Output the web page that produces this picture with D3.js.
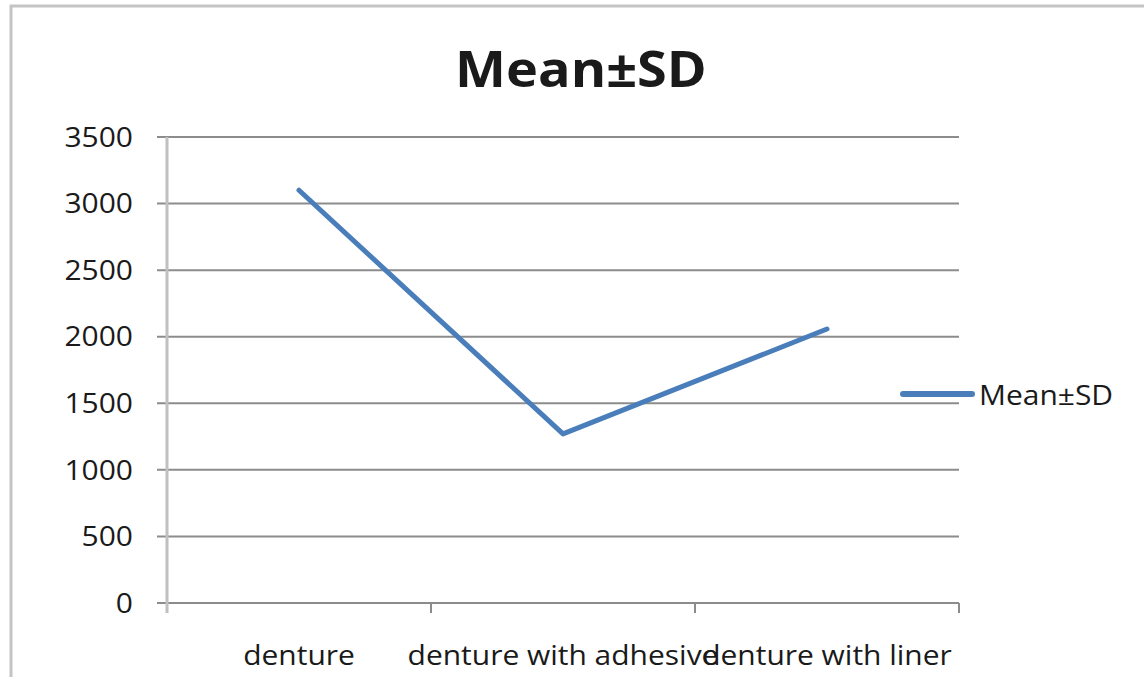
<!DOCTYPE html>
<html>
<head>
<meta charset="utf-8">
<script src="https://cdn.jsdelivr.net/npm/d3@7"></script>
<style>
  html, body { margin: 0; padding: 0; background: #fff; }
  svg { display: block; }
  text { font-family: "Open Sans", "Noto Sans", sans-serif; fill: #1a1a1a; }
</style>
</head>
<body>
<script>
// Mean±SD per denture condition
const categories = ["denture", "denture with adhesive", "denture with liner"];
const meanValues = [3100, 1270, 2058];
const yTicks = [0, 500, 1000, 1500, 2000, 2500, 3000, 3500];
const seriesName = "Mean±SD";
const chartTitle = "Mean±SD";

const W = 1144, H = 677;
const plot = { left: 167, right: 959, top: 137, bottom: 603 };
const labelSize = 27;
const stretch = 1.11; // slightly wide label lettering

const svg = d3.select("body").append("svg").attr("width", W).attr("height", H);

// places a horizontally stretched text anchored at (x, y)
function wideText(parent, x, y, str, opts = {}) {
  return parent.append("text")
    .attr("transform", `translate(${x},${y}) scale(${opts.sx || stretch},1)`)
    .attr("text-anchor", opts.anchor || "start")
    .attr("dy", opts.dy || null)
    .attr("font-size", opts.size || labelSize)
    .attr("font-weight", opts.weight || null)
    .text(str);
}

// chart frame
svg.append("rect")
  .attr("x", 11).attr("y", 6)
  .attr("width", W + 20).attr("height", H + 20)
  .attr("fill", "none").attr("stroke", "#c4c4c4").attr("stroke-width", 3);

const x = d3.scaleBand().domain(categories).range([plot.left, plot.right]).padding(0);
const y = d3.scaleLinear().domain([0, 3500]).range([plot.bottom, plot.top]);

// horizontal gridlines with tick stubs
svg.append("g").selectAll("line").data(yTicks).join("line")
  .attr("x1", plot.left - 10).attr("x2", plot.right)
  .attr("y1", d => y(d)).attr("y2", d => y(d))
  .attr("stroke", "#8c8c8c").attr("stroke-width", 2);

// y tick labels
const yLab = svg.append("g");
yTicks.forEach(t => wideText(yLab, 133, y(t), String(t), { anchor: "end", dy: "0.36em" }));

// vertical axis
svg.append("line")
  .attr("x1", plot.left).attr("x2", plot.left)
  .attr("y1", plot.top).attr("y2", plot.bottom + 10)
  .attr("stroke", "#c0c0c0").attr("stroke-width", 3);

// x tick marks at band boundaries
const bounds = categories.map(c => x(c)).concat([x(categories[categories.length - 1]) + x.bandwidth()]);
svg.append("g").selectAll("line").data(bounds.slice(1)).join("line")
  .attr("x1", d => d).attr("x2", d => d)
  .attr("y1", plot.bottom).attr("y2", plot.bottom + 10)
  .attr("stroke", "#8c8c8c").attr("stroke-width", 2);

// category labels
const xLab = svg.append("g");
categories.forEach(c => wideText(xLab, x(c) + x.bandwidth() / 2, 665, c, { anchor: "middle" }));

// data line
const line = d3.line()
  .x((d, i) => x(categories[i]) + x.bandwidth() / 2)
  .y(d => y(d));
svg.append("path")
  .datum(meanValues)
  .attr("d", line)
  .attr("fill", "none")
  .attr("stroke", "#4a7ebb")
  .attr("stroke-width", 5)
  .attr("stroke-linecap", "round")
  .attr("stroke-linejoin", "round");

// title
wideText(svg, 581, 87, chartTitle, { anchor: "middle", size: 51, weight: "bold", sx: 1.06 });

// legend
svg.append("line")
  .attr("x1", 903).attr("x2", 972)
  .attr("y1", 394).attr("y2", 394)
  .attr("stroke", "#4a7ebb").attr("stroke-width", 6)
  .attr("stroke-linecap", "round");
wideText(svg, 979, 395, seriesName, { dy: "0.36em" });
</script>
</body>
</html>
